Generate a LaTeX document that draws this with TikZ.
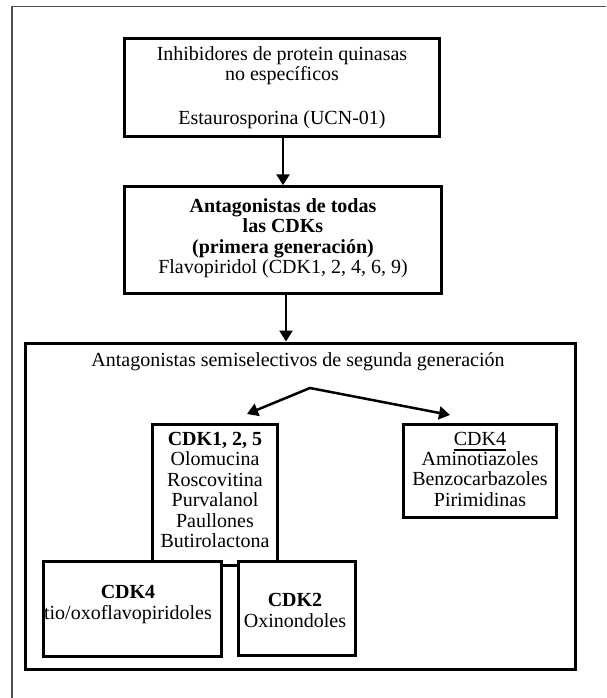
\documentclass[tikz,border=0pt]{standalone}
\usepackage{fontspec}
\setmainfont{Liberation Serif}
\usetikzlibrary{arrows.meta}
\definecolor{marco}{RGB}{80,80,80}
\tikzset{
  >={Triangle[length=11pt,width=13pt]},
  caja/.style={draw, line width=3pt, fill=white, inner sep=0pt},
  texto/.style={align=center, inner sep=0pt, font=\fontsize{20}{20.5}\selectfont},
  flecha/.style={line width=2.5pt, ->}
}
\begin{document}
\begin{tikzpicture}[x=1pt,y=-1pt]
\useasboundingbox (0,0) rectangle (606,698);
\draw [marco, line width=1.5pt] (12,698)-- (12,6.5)-- (606,6.5);
\node [caja, minimum width=315pt, minimum height=98.5pt] (inh) at (282,87.5) {};
\node [caja, minimum width=317pt, minimum height=106.5pt] (todas) at (283,240) {};
\node [caja, minimum width=550pt, minimum height=326pt] (semi) at (300.5,506) {};
\node [caja, minimum width=125pt, minimum height=141pt] (cdkuno) at (215,494.5) {};
\node [caja, minimum width=153pt, minimum height=93pt] (cdkcuatro) at (479.5,470.5) {};
\node [caja, minimum width=178pt, minimum height=95pt] (tio) at (132,609) {};
\node [caja, minimum width=117pt, minimum height=94pt] (oxi) at (296.5,608) {};
\node [texto] (tinh) at (282,87.5) {Inhibidores de protein quinasas\\no específicos\\[23pt]Estaurosporina (UCN-01)};
\node [texto] (ttodas) at (283,238) {\textbf{Antagonistas de todas}\\\textbf{las CDKs}\\\textbf{(primera generación)}\\Flavopiridol (CDK1, 2, 4, 6, 9)};
\node [texto] (tsemi) at (298,362) {Antagonistas semiselectivos de segunda generación};
\node [texto] (tcdkuno) at (215,490) {\textbf{CDK1, 2, 5}\\Olomucina\\Roscovitina\\Purvalanol\\Paullones\\Butirolactona};
\node [texto] (tcuatro) at (480,438.5) {CDK4};
\draw [line width=2pt] ([yshift=-5pt]tcuatro.base west)-- ([yshift=-5pt]tcuatro.base east);
\node [texto] (tamino) at (480,479) {Aminotiazoles\\Benzocarbazoles\\Pirimidinas};
\node [texto] (ttio) at (128,604.5) {\textbf{CDK4}\\tio/oxoflavopiridoles};
\node [texto] (toxi) at (295,610.5) {\textbf{CDK2}\\Oxinondoles};
\draw [flecha] ([xshift=1pt]inh.south)-- ([xshift=1pt]inh.south |- todas.north);
\draw [flecha] ([xshift=3pt]todas.south)-- ([xshift=3pt]todas.south |- semi.north);
\coordinate (horq) at (310,388);
\coordinate (puntaA) at (247,414);
\coordinate (puntaB) at (450,415);
\draw [line width=2.5pt, <->] (puntaA)-- (horq)-- (puntaB);
\end{tikzpicture}
\end{document}
